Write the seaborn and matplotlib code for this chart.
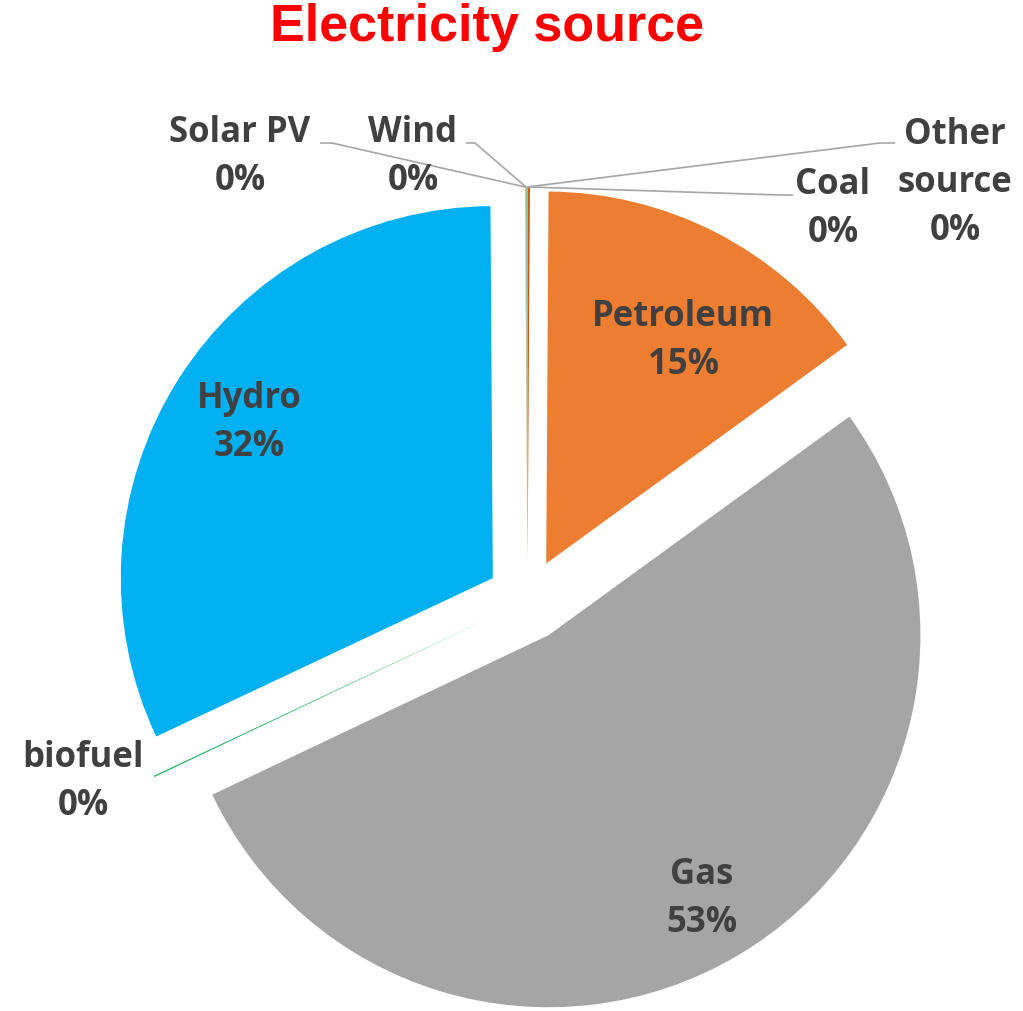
import numpy as np
import seaborn as sns
import matplotlib.pyplot as plt

# data (percent shares, clockwise from 12 o'clock)
sources = ['Coal', 'Petroleum', 'Gas', 'biofuel', 'Hydro', 'Solar PV', 'Wind', 'Other source']
shares = [0.1, 14.9, 52.95, 0.05, 31.9, 0.03, 0.03, 0.04]
colors = ['#C55A11', '#ED7D31', '#A5A5A5', '#00B050', '#00B0F0', '#FFC000', '#5B9BD5', '#70AD47']

W, H = 1023, 1011
sns.set_style("white")
plt.rcParams['font.family'] = ['Open Sans', 'DejaVu Sans']

fig = plt.figure(figsize=(W / 100, H / 100), dpi=100)
ax = fig.add_axes([0, 0, 1, 1])

cx, cy, R, gap = 527.5, H - 600, 372, 41
wedges, _ = ax.pie(shares, colors=colors, startangle=90, counterclock=False,
                   center=(cx, cy), radius=R, explode=[gap] * len(shares),
                   wedgeprops=dict(linewidth=0))
ax.set_xlim(0, W)
ax.set_ylim(0, H)
ax.set_aspect('equal')
ax.axis('off')

txt = dict(fontsize=25, fontweight='bold', color='#404040', ha='center', va='center',
           linespacing=1.45)

def label(i):
    name = sources[i].replace(' source', '\nsource')
    return f"{name}\n{round(shares[i])}%"

# label positions in pixel coords (x, y from top)
label_pos = {
    'Petroleum': (683, 341), 'Hydro': (249, 423), 'Gas': (702, 899),
    'biofuel': (83, 782), 'Solar PV': (240, 157), 'Wind': (413, 157),
    'Coal': (833, 209), 'Other source': (955, 183),
}
for i, s in enumerate(sources):
    x, y = label_pos[s]
    ax.text(x, H - y, label(i), **txt)

# leader lines: label end, elbow
leaders = {
    'Solar PV': [(320, 143), (332, 143)],
    'Wind': [(466, 143), (475, 143)],
    'Other source': [(895, 143), (880, 143)],
    'Coal': [(793, 195), (780, 195)],
}
for i, s in enumerate(sources):
    if s not in leaders:
        continue
    w = wedges[i]
    mid = np.deg2rad((w.theta1 + w.theta2) / 2)
    tx = w.center[0] + w.r * np.cos(mid)
    ty = w.center[1] + w.r * np.sin(mid)
    (x0, y0), (x1, y1) = leaders[s]
    ax.plot([x0, x1, tx], [H - y0, H - y1, ty], color='#A6A6A6', lw=1.2,
            solid_capstyle='butt')

fig.text(487 / W, 1 - 27 / H, 'Electricity source', fontsize=37.5, fontweight='bold',
         color='#FF0000', ha='center', va='center', family='Liberation Sans')

plt.savefig('out.png', dpi=100)
plt.close()
